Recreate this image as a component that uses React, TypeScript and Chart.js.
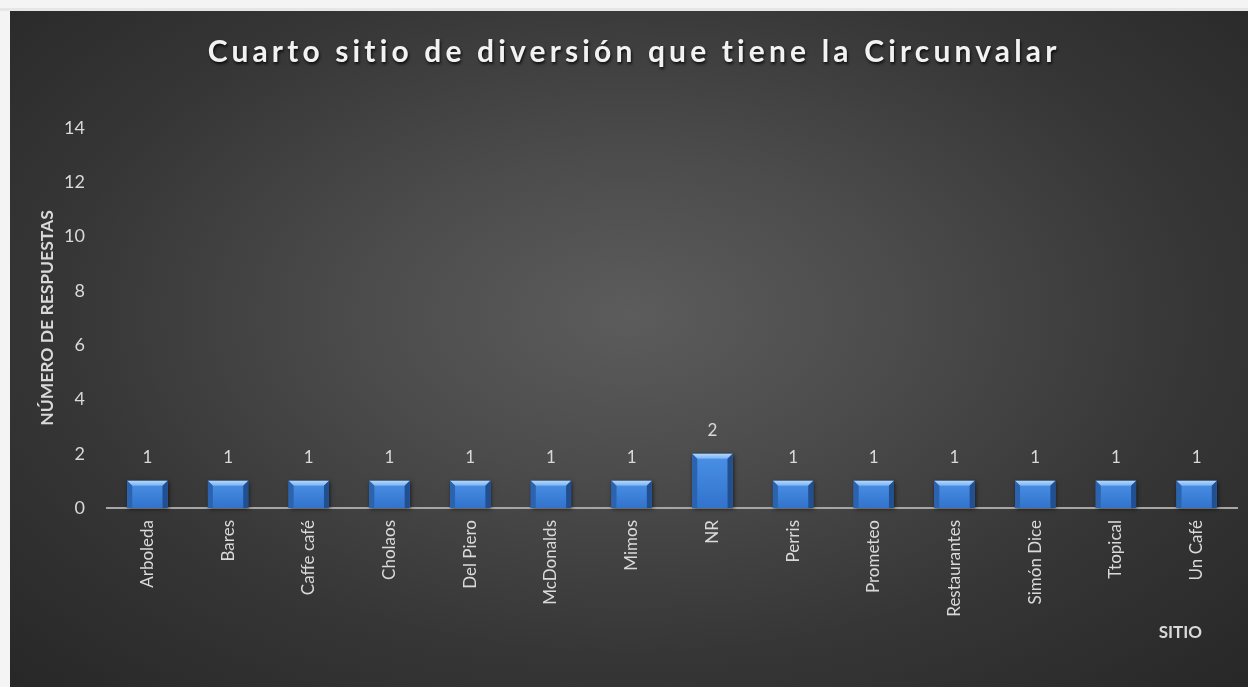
import React, { useEffect, useRef } from "react";
import { Chart, registerables } from "chart.js";

Chart.register(...registerables);

const categories = [
  "Arboleda",
  "Bares",
  "Caffe café",
  "Cholaos",
  "Del Piero",
  "McDonalds",
  "Mimos",
  "NR",
  "Perris",
  "Prometeo",
  "Restaurantes",
  "Simón Dice",
  "Ttopical",
  "Un Café",
];
const respuestas = [1, 1, 1, 1, 1, 1, 1, 2, 1, 1, 1, 1, 1, 1];
const yTicks = [0, 2, 4, 6, 8, 10, 12, 14];
const chartTitle = "Cuarto sitio de diversión que tiene la Circunvalar";
const yTitle = "NÚMERO DE RESPUESTAS";
const xTitle = "SITIO";

const FONT = "Lato, 'Open Sans', sans-serif";
const TEXT = "#d9d9d9";

const titlePlugin = {
  id: "customTitle",
  afterDraw(chart: any) {
    const ctx = chart.ctx as CanvasRenderingContext2D;
    ctx.save();
    ctx.font = `bold 30px ${FONT}`;
    const w = ctx.measureText(chartTitle).width;
    const spacing = Math.max(0, (850 - w) / (chartTitle.length - 1));
    (ctx as any).letterSpacing = `${spacing.toFixed(2)}px`;
    ctx.textAlign = "center";
    ctx.textBaseline = "alphabetic";
    ctx.shadowColor = "rgba(0,0,0,0.8)";
    ctx.shadowOffsetX = 1;
    ctx.shadowOffsetY = 2;
    ctx.shadowBlur = 3;
    ctx.fillStyle = "#f2f2f2";
    ctx.fillText(chartTitle, chart.width / 2 + 3 + spacing / 2, 51);
    ctx.restore();

    // x axis title
    ctx.save();
    ctx.font = `bold 17px ${FONT}`;
    ctx.textAlign = "right";
    ctx.textBaseline = "middle";
    ctx.fillStyle = TEXT;
    ctx.fillText(xTitle, chart.chartArea.right - 35, 622);
    ctx.restore();
  },
};

const barDecor = {
  id: "barDecor",
  beforeDatasetsDraw(chart: any) {
    const ctx = chart.ctx as CanvasRenderingContext2D;
    const meta = chart.getDatasetMeta(0);
    meta.data.forEach((el: any) => {
      const { x, y, base, width } = el.getProps(["x", "y", "base", "width"], true);
      ctx.save();
      ctx.shadowColor = "rgba(0,0,0,0.6)";
      ctx.shadowBlur = 4;
      ctx.shadowOffsetX = 1;
      ctx.shadowOffsetY = 1;
      ctx.fillStyle = "#1d3f70";
      ctx.fillRect(x - width / 2, y, width, base - y);
      ctx.restore();
    });
  },
  afterDatasetsDraw(chart: any) {
    const ctx = chart.ctx as CanvasRenderingContext2D;
    const meta = chart.getDatasetMeta(0);
    meta.data.forEach((el: any, i: number) => {
      const { x, y, base, width } = el.getProps(["x", "y", "base", "width"], true);
      const l = x - width / 2;
      const r = x + width / 2;
      const b = 5;
      ctx.save();
      const g = ctx.createLinearGradient(0, y, 0, base);
      g.addColorStop(0, "#4b91e8");
      g.addColorStop(1, "#3273cc");
      ctx.fillStyle = g;
      ctx.fillRect(l + b, y + b, width - 2 * b, base - y - b);
      const tg = ctx.createLinearGradient(0, y, 0, y + b + 2);
      tg.addColorStop(0, "#b3d8fb");
      tg.addColorStop(1, "#63a3ec");
      ctx.fillStyle = tg;
      ctx.beginPath();
      ctx.moveTo(l, y);
      ctx.lineTo(r, y);
      ctx.lineTo(r - b, y + b);
      ctx.lineTo(l + b, y + b);
      ctx.closePath();
      ctx.fill();
      ctx.fillStyle = "#2c63ae";
      ctx.beginPath();
      ctx.moveTo(l, y);
      ctx.lineTo(l + b, y + b);
      ctx.lineTo(l + b, base);
      ctx.lineTo(l, base);
      ctx.closePath();
      ctx.fill();
      ctx.fillStyle = "#224f90";
      ctx.beginPath();
      ctx.moveTo(r, y);
      ctx.lineTo(r - b, y + b);
      ctx.lineTo(r - b, base);
      ctx.lineTo(r, base);
      ctx.closePath();
      ctx.fill();
      ctx.restore();

      ctx.save();
      ctx.font = `17px ${FONT}`;
      ctx.fillStyle = TEXT;
      ctx.textAlign = "center";
      ctx.textBaseline = "middle";
      ctx.fillText(String(respuestas[i]), x, y - 23);
      ctx.restore();
    });
  },
};

export default function App() {
  const ref = useRef<HTMLCanvasElement>(null);

  useEffect(() => {
    document.body.style.margin = "0";
    const chart = new Chart(ref.current as HTMLCanvasElement, {
      type: "bar",
      data: {
        labels: categories,
        datasets: [
          {
            label: "Respuestas",
            data: respuestas,
            backgroundColor: "#3a7bd5",
            borderWidth: 0,
            barPercentage: 0.5,
            categoryPercentage: 1.0,
          },
        ],
      },
      options: {
        responsive: false,
        devicePixelRatio: 1,
        animation: false,
        layout: { padding: { top: 117, right: 11, left: 0, bottom: 0 } },
        plugins: {
          legend: { display: false },
          title: { display: false },
          tooltip: { enabled: false },
        },
        scales: {
          x: {
            grid: { display: false, drawTicks: false },
            border: { display: true, color: "#a6a6a6", width: 2 },
            ticks: {
              color: TEXT,
              font: { family: FONT, size: 17 },
              minRotation: 90,
              maxRotation: 90,
              padding: 12,
              autoSkip: false,
            },
            afterFit(scale: any) {
              scale.height = 179;
            },
          },
          y: {
            min: 0,
            max: 14,
            grid: { display: false, drawTicks: false },
            border: { display: false },
            ticks: {
              color: TEXT,
              font: { family: FONT, size: 18 },
              padding: 22,
            },
            afterBuildTicks(scale: any) {
              scale.ticks = yTicks.map((v) => ({ value: v }));
            },
            title: {
              display: true,
              text: yTitle,
              color: TEXT,
              font: { family: FONT, size: 17.5, weight: "bold" },
              padding: { top: 27, bottom: 0 },
            },
            afterFit(scale: any) {
              scale.width = 97;
            },
          },
        },
      },
      plugins: [titlePlugin, barDecor],
    });
    return () => chart.destroy();
  }, []);

  return (
    <div
      style={{
        position: "relative",
        width: 1248,
        height: 687,
        background: "#f4f4f4",
        overflow: "hidden",
      }}
    >
      <div
        style={{
          position: "absolute",
          left: 0,
          top: 8,
          width: 1248,
          height: 3,
          background: "#e6e6e6",
        }}
      />
      <div
        style={{
          position: "absolute",
          left: 10,
          top: 11,
          width: 1238,
          height: 676,
          background:
            "radial-gradient(farthest-corner at 50% 45%, #5c5c5c 0%, #4c4c4c 30%, #363636 65%, #272727 100%)",
        }}
      >
        <canvas
          ref={ref}
          width={1238}
          height={676}
          style={{ display: "block", width: 1238, height: 676 }}
        />
      </div>
    </div>
  );
}
